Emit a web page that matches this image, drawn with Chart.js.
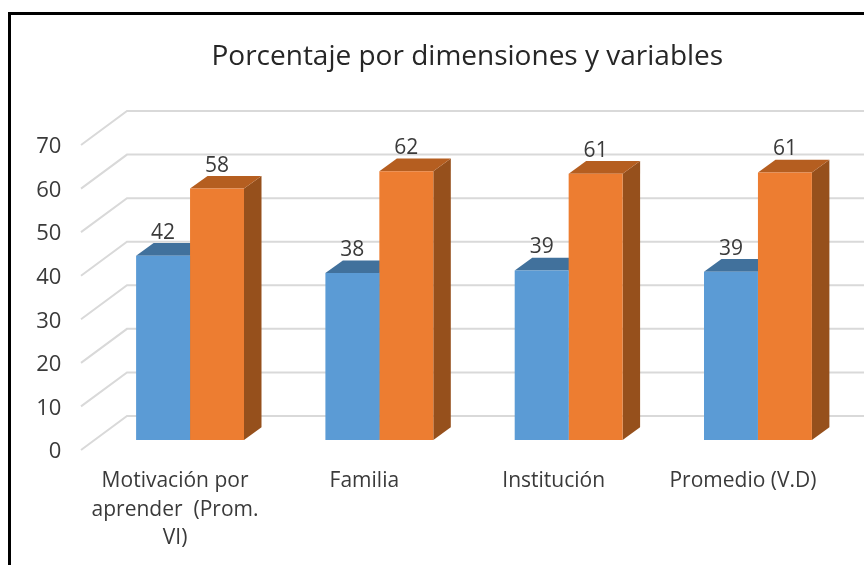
<!DOCTYPE html>
<html>
<head>
<meta charset="utf-8">
<style>
  html, body { margin: 0; padding: 0; background: #fff; }
  #wrap { width: 864px; height: 565px; position: relative; }
</style>
<script src="https://cdn.jsdelivr.net/npm/chart.js@4"></script>
</head>
<body>
<div id="wrap"><canvas id="chart" width="864" height="565"></canvas></div>
<script>
const categories = [["Motivación por", "aprender  (Prom.", "VI)"], "Familia", "Institución", "Promedio (V.D)"];
const seriesBlue = [42.3, 38.3, 38.9, 38.6];
const seriesOrange = [57.7, 61.7, 61.1, 61.4];
const yMin = 0;
const yMax = 70;
const yStep = 10;

const FONT = '"Open Sans", sans-serif';
const BAR_DX = 17.5, BAR_DY = 12.7;
const FACES = [
  { top: '#41719C', side: '#3A6A94' },
  { top: '#B55E20', side: '#96501C' }
];

// the fake 3D: frame, walls, then bar sides and top faces
const depthPlugin = {
  id: 'depth',
  afterLayout(chart) {
    // title sits centred on 467, not on the plot box
    chart.titleBlock.left += 52;
  },
  beforeDatasetsDraw(chart) {
    const ctx = chart.ctx, y = chart.scales.y;
    ctx.save();
    ctx.strokeStyle = '#000';
    ctx.lineWidth = 3;
    ctx.beginPath();
    ctx.moveTo(9.5, 565);
    ctx.lineTo(9.5, 13.5);
    ctx.lineTo(864, 13.5);
    ctx.stroke();

    ctx.strokeStyle = '#D9D9D9';
    ctx.lineWidth = 2;
    y.ticks.forEach((t, i) => {
      const py = y.getPixelForTick(i);
      ctx.beginPath();
      ctx.moveTo(81, py + 10);
      ctx.lineTo(127, py - 24);
      ctx.lineTo(864, py - 24);
      ctx.stroke();
    });

    chart.data.datasets.forEach((ds, d) => {
      chart.getDatasetMeta(d).data.forEach(bar => {
        const l = bar.x - bar.width / 2, r = bar.x + bar.width / 2;
        ctx.fillStyle = FACES[d].side;
        ctx.beginPath();
        ctx.moveTo(r, bar.y);
        ctx.lineTo(r + BAR_DX, bar.y - BAR_DY);
        ctx.lineTo(r + BAR_DX, bar.base - BAR_DY);
        ctx.lineTo(r, bar.base);
        ctx.fill();
        ctx.fillStyle = FACES[d].top;
        ctx.beginPath();
        ctx.moveTo(l, bar.y);
        ctx.lineTo(l + BAR_DX, bar.y - BAR_DY);
        ctx.lineTo(r + BAR_DX, bar.y - BAR_DY);
        ctx.lineTo(r, bar.y);
        ctx.fill();
      });
    });
    ctx.restore();
  },
  afterDatasetsDraw(chart) {
    const ctx = chart.ctx;
    ctx.save();
    ctx.font = '21px ' + FONT;
    ctx.fillStyle = '#3A3A3A';
    ctx.textAlign = 'center';
    ctx.textBaseline = 'middle';
    chart.data.datasets.forEach((ds, d) => {
      chart.getDatasetMeta(d).data.forEach((bar, i) => {
        ctx.fillText(ds.data[i].toFixed(0), bar.x, bar.y - 23);
      });
    });
    ctx.restore();
  }
};

new Chart(document.getElementById('chart'), {
  type: 'bar',
  data: {
    labels: categories,
    datasets: [
      { label: 'Serie 1', data: seriesBlue, backgroundColor: '#5B9BD5', borderWidth: 0 },
      { label: 'Serie 2', data: seriesOrange, backgroundColor: '#ED7D31', borderWidth: 0 }
    ]
  },
  options: {
    responsive: false,
    animation: false,
    layout: { padding: { left: 30, right: 11.4, top: 0, bottom: 0 } },
    datasets: { bar: { barPercentage: 1, categoryPercentage: 0.57 } },
    plugins: {
      legend: { display: false },
      tooltip: { enabled: false },
      title: {
        display: true,
        text: 'Porcentaje por dimensiones y variables',
        color: '#262626',
        font: { family: FONT, size: 28, weight: 'normal', lineHeight: 1.2 },
        padding: { top: 40, bottom: 61.4 }
      }
    },
    scales: {
      x: {
        grid: { display: false, drawTicks: false },
        border: { display: false },
        afterFit(s) { s.height = 125; },
        ticks: {
          color: '#3A3A3A',
          font: { family: FONT, size: 21, lineHeight: 1.36 },
          padding: 27,
          labelOffset: -15,
          maxRotation: 0,
          autoSkip: false
        }
      },
      y: {
        min: yMin,
        max: yMax,
        grid: { display: false, drawTicks: false },
        border: { display: false },
        afterFit(s) { s.width = 65.4; },
        ticks: {
          stepSize: yStep,
          color: '#3A3A3A',
          font: { family: FONT, size: 22 },
          padding: 34,
          labelOffset: 12
        }
      }
    }
  },
  plugins: [depthPlugin]
});
</script>
</body>
</html>
